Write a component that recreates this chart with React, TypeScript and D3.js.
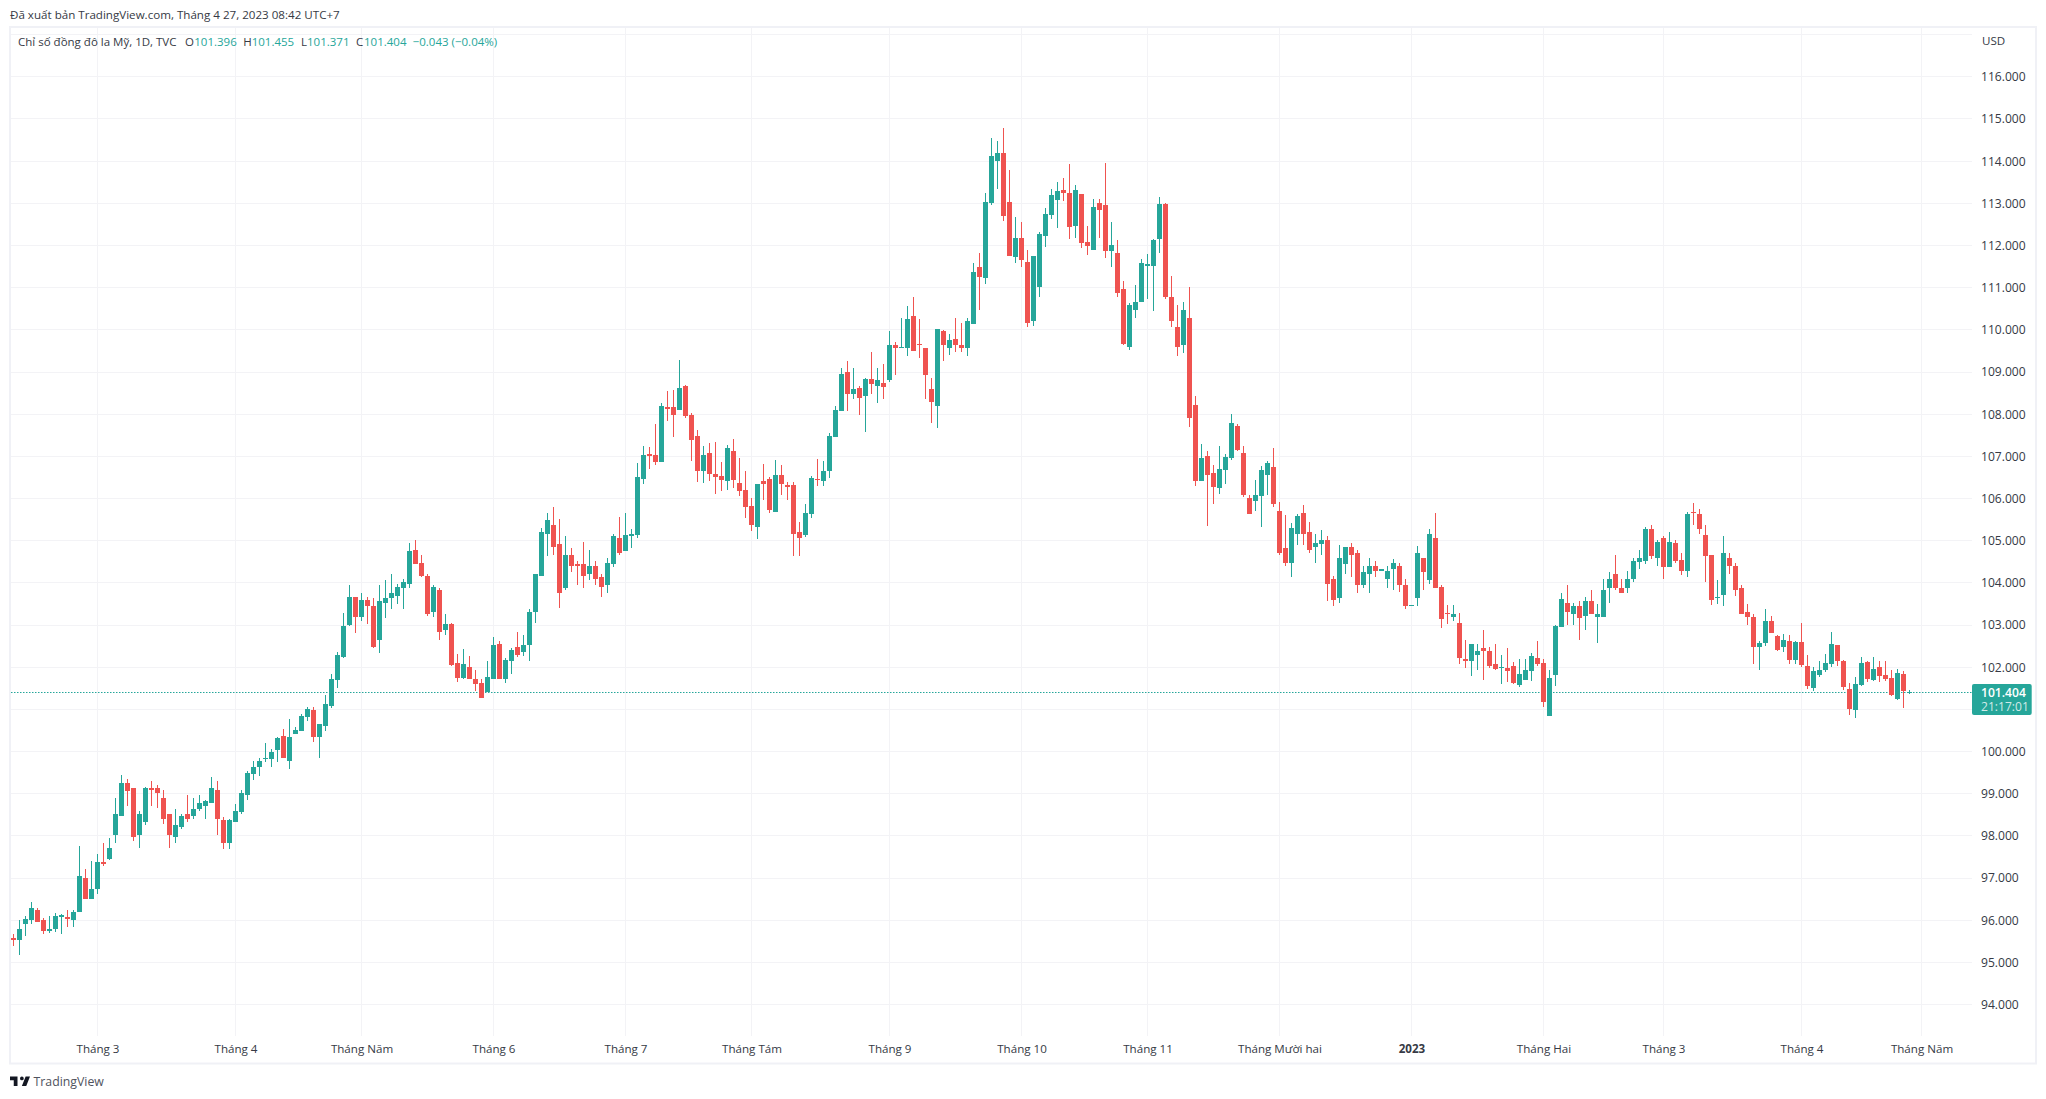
import React, { useRef, useEffect } from 'react';
import * as d3 from 'd3';

const opens = [
  95.58,95.53,95.91,96.01,96.25,96.01,95.75,95.79,96.08,96.08,
  96.01,96.20,97.01,96.51,96.75,97.37,97.46,98.03,98.48,99.25,
  99.13,98.03,98.34,99.13,99.13,98.89,98.51,97.98,98.22,98.51,
  98.46,98.63,98.72,98.79,99.08,98.37,97.82,98.32,98.56,98.98,
  99.46,99.63,99.82,99.82,100.03,100.37,99.77,100.41,100.48,100.82,
  100.98,100.34,100.60,101.08,101.70,102.25,103.01,103.67,103.20,103.60,
  103.46,102.65,103.53,103.63,103.70,103.89,103.98,104.77,104.46,104.17,
  103.32,103.84,102.89,103.03,102.10,101.75,102.00,101.72,101.62,101.41,
  101.72,102.56,101.72,102.15,102.48,102.37,102.53,103.32,104.17,105.17,
  105.37,104.91,103.87,104.65,104.44,104.44,104.20,104.39,104.13,103.96,
  104.44,105.06,104.75,105.10,105.13,106.46,107.06,107.03,106.87,108.17,
  108.17,108.10,108.67,107.98,107.48,106.65,107.08,106.58,106.53,106.41,
  107.13,106.37,106.20,105.82,105.32,106.41,106.46,105.67,106.56,106.32,
  106.32,105.20,105.13,105.63,106.46,106.41,106.65,107.46,108.08,109.01,
  108.48,108.63,108.44,108.84,108.67,108.75,108.82,109.65,109.58,109.58,
  110.32,109.67,109.58,108.60,108.20,109.98,109.58,109.79,109.65,109.56,
  110.15,111.48,111.22,113.01,114.01,114.20,113.03,111.72,112.17,111.60,
  110.20,111.01,112.22,112.72,113.08,113.32,113.25,112.46,113.22,112.08,
  111.89,113.01,112.96,111.87,111.82,110.96,109.60,110.48,110.65,111.51,
  111.51,112.15,112.98,110.79,110.06,109.63,110.29,108.22,106.41,107.01,
  106.60,106.25,106.67,106.96,107.72,107.08,106.01,105.94,106.06,106.56,
  106.75,105.70,104.82,104.48,105.15,105.65,105.20,104.84,104.91,105.01,
  104.08,103.65,104.44,104.84,104.72,103.94,104.20,104.39,104.29,104.10,
  104.32,104.39,103.96,103.46,103.65,104.58,104.06,105.06,103.91,103.29,
  103.20,103.06,102.20,102.15,102.29,102.46,102.39,102.08,101.97,101.99,
  102.03,101.58,101.70,101.91,102.22,102.10,100.84,101.82,102.96,103.53,
  103.25,103.44,103.22,103.58,103.20,103.20,103.87,104.20,103.89,103.89,
  104.10,104.49,104.53,105.27,104.60,105.06,104.37,104.94,104.55,104.29,
  105.67,105.63,105.13,104.65,103.65,103.72,104.58,104.41,103.87,103.32,
  103.20,102.47,102.58,103.10,102.75,102.47,102.63,102.18,102.60,102.03,
  101.50,101.82,101.94,102.08,102.53,102.15,101.48,100.98,101.58,102.13,
  101.70,102.01,101.82,101.75,101.25,101.84,101.396,
];

const highs = [
  95.67,96.01,96.10,96.44,96.29,96.06,96.10,96.17,96.15,96.25,
  96.25,97.75,97.22,97.41,97.58,97.84,97.96,98.91,99.44,99.34,
  99.13,98.60,99.17,99.29,99.20,99.08,98.51,98.63,98.53,98.98,
  98.89,98.96,98.84,99.39,99.29,98.44,98.41,98.75,99.08,99.53,
  99.77,99.84,100.20,100.06,100.34,100.53,100.77,100.58,100.89,101.06,
  101.06,100.65,101.34,101.84,102.37,103.29,103.94,103.67,103.75,103.67,
  103.63,103.94,104.06,104.20,103.98,104.10,104.94,105.01,104.65,104.22,
  103.94,103.89,103.27,103.06,102.32,102.44,102.27,101.94,101.72,102.15,
  102.72,102.63,102.22,102.46,102.84,102.77,103.37,104.22,105.29,105.65,
  105.79,105.51,105.10,104.82,104.53,104.96,104.77,104.51,104.22,104.60,
  105.15,105.56,105.65,105.27,106.85,107.25,107.22,107.77,108.27,108.56,
  108.58,109.29,108.70,108.03,107.63,107.25,107.32,107.34,106.87,107.27,
  107.41,106.96,106.65,106.01,106.34,106.82,106.51,106.91,106.79,106.39,
  106.39,105.44,105.87,106.53,106.94,106.89,107.56,108.20,109.10,109.27,
  109.10,108.67,108.87,109.48,109.10,109.20,109.98,109.72,110.27,110.56,
  110.79,110.25,109.58,108.87,110.01,110.00,109.91,110.27,110.17,110.29,
  111.58,111.82,113.25,114.56,114.48,114.79,113.79,112.67,112.56,111.89,
  111.75,112.32,112.89,113.34,113.51,113.60,113.94,113.44,113.22,112.46,
  113.10,113.10,113.96,112.56,112.13,111.15,110.63,111.06,111.67,111.79,
  112.15,113.15,113.01,111.27,110.60,110.65,111.01,108.44,107.29,107.13,
  106.79,107.25,107.06,108.01,107.77,107.25,106.08,106.44,106.77,106.89,
  107.20,105.91,105.60,105.41,105.63,105.84,105.44,105.15,105.25,105.10,
  104.17,104.89,104.84,104.94,104.79,104.39,104.60,104.53,104.32,104.41,
  104.56,104.46,104.10,103.48,104.87,104.60,105.27,105.65,103.94,103.48,
  103.48,103.29,102.65,102.55,102.55,102.89,102.48,102.55,102.29,102.46,
  102.13,102.20,102.20,102.34,102.63,102.20,101.94,103.01,103.77,103.96,
  103.53,103.56,103.67,103.84,103.51,104.10,104.25,104.67,104.10,104.27,
  104.60,104.79,105.32,105.37,105.01,105.10,105.20,105.01,104.72,105.67,
  105.89,105.75,105.37,104.65,104.06,105.10,104.70,104.46,103.96,103.51,
  103.27,102.63,103.37,103.22,102.77,102.79,102.77,102.63,103.05,102.29,
  102.01,102.15,102.32,102.84,102.53,102.17,101.63,101.77,102.25,102.15,
  102.25,102.15,102.15,101.94,101.96,101.91,101.455,
];

const lows = [
  95.39,95.17,95.63,95.91,95.96,95.67,95.70,95.72,95.67,95.84,
  95.84,96.20,96.51,96.51,96.63,97.29,97.44,97.84,98.48,98.72,
  97.87,97.72,98.27,98.70,98.65,98.29,97.72,97.84,98.17,98.32,
  98.39,98.60,98.41,98.79,98.03,97.70,97.70,98.32,98.53,98.84,
  99.32,99.41,99.75,99.63,99.75,99.84,99.58,100.41,100.48,100.72,
  100.22,99.84,100.48,101.03,101.51,102.22,102.98,102.82,103.10,103.03,
  102.46,102.34,103.17,103.39,103.51,103.37,103.89,104.44,104.15,103.22,
  103.20,102.65,102.77,102.03,101.65,101.72,101.72,101.44,101.27,101.41,
  101.72,101.72,101.62,101.84,102.25,102.27,102.15,103.06,104.17,104.63,
  104.67,103.41,103.84,104.25,103.94,103.87,104.06,103.96,103.67,103.77,
  104.37,104.65,104.75,104.82,105.06,106.34,106.70,106.79,106.87,107.84,
  107.46,108.10,107.91,106.89,106.39,106.37,106.41,106.10,106.17,106.20,
  106.25,106.06,105.53,105.22,105.03,105.96,105.65,105.67,106.08,105.96,
  104.63,104.63,105.08,105.53,106.29,106.29,106.48,107.46,108.08,108.08,
  108.37,107.98,107.58,108.48,108.27,108.37,108.77,108.94,109.58,109.37,
  109.51,109.34,108.37,107.79,107.67,109.27,109.41,109.48,109.48,109.37,
  110.13,110.46,111.08,112.96,113.34,112.58,111.75,111.58,111.48,110.06,
  110.10,110.79,111.96,112.63,112.41,113.06,112.15,112.17,111.94,111.77,
  111.89,112.17,111.70,111.48,110.77,109.63,109.53,110.29,110.65,110.72,
  110.44,111.82,110.72,110.06,109.37,109.46,107.70,106.29,106.41,105.34,
  105.87,106.10,106.34,106.91,107.13,106.03,105.63,105.70,105.32,106.08,
  105.79,104.67,104.39,104.13,104.89,104.89,104.72,104.48,104.67,103.58,
  103.46,103.53,104.22,104.13,103.77,103.87,103.75,104.13,104.29,103.89,
  103.84,103.79,103.39,103.46,103.46,103.84,103.98,103.87,102.94,103.03,
  103.10,102.08,101.98,101.78,101.94,101.70,101.98,101.94,101.60,101.66,
  101.60,101.53,101.70,101.67,102.03,101.05,100.84,101.55,102.96,103.01,
  103.01,102.65,102.89,103.25,102.58,103.18,103.53,103.84,103.75,103.77,
  104.01,104.32,104.44,104.56,104.41,104.10,104.37,104.48,104.18,104.15,
  105.37,105.15,104.03,103.48,103.51,103.44,104.20,103.70,103.27,103.01,
  102.08,101.93,102.51,102.82,102.39,102.37,102.08,102.08,102.00,101.48,
  101.43,101.77,101.89,102.00,102.03,101.46,100.87,100.79,101.56,101.65,
  101.67,101.65,101.67,101.32,101.22,101.03,101.371,
];

const closes = [
  95.53,95.79,96.03,96.29,95.96,95.75,95.79,96.10,96.13,96.03,
  96.20,97.06,96.51,96.75,97.39,97.34,97.72,98.51,99.25,99.06,
  97.98,98.53,99.13,99.08,99.01,98.39,98.01,98.25,98.48,98.41,
  98.63,98.77,98.82,99.13,98.39,97.82,98.37,98.58,99.01,99.48,
  99.63,99.77,99.84,99.98,100.32,99.84,100.34,100.51,100.84,101.01,
  100.34,100.65,101.13,101.72,102.29,102.98,103.67,103.20,103.60,103.44,
  102.48,103.56,103.65,103.75,103.91,104.01,104.75,104.44,104.17,103.27,
  103.91,102.84,103.03,102.06,101.75,102.08,101.72,101.60,101.27,101.77,
  102.53,101.72,102.17,102.41,102.29,102.53,103.32,104.20,105.20,105.48,
  104.84,103.77,104.65,104.39,104.41,104.17,104.41,104.10,103.91,104.48,
  105.10,104.72,105.13,105.17,106.51,107.03,107.01,106.87,108.20,108.13,
  107.98,108.63,107.96,107.39,106.65,107.03,106.58,106.51,106.44,107.20,
  106.44,106.17,105.79,105.37,106.34,106.34,105.72,106.56,106.34,106.27,
  105.15,105.06,105.65,106.48,106.44,106.65,107.48,108.10,108.96,108.48,
  108.60,108.39,108.84,108.72,108.82,108.65,109.63,109.58,109.60,110.25,
  109.51,109.63,108.94,108.29,110.01,109.63,109.75,109.63,109.56,110.20,
  111.37,111.25,113.03,114.13,114.20,112.70,111.75,112.17,111.65,110.17,
  111.75,112.27,112.75,113.20,113.29,113.25,112.44,113.32,112.06,111.98,
  112.91,112.84,111.87,112.01,110.87,109.67,110.58,110.67,111.58,111.56,
  112.13,112.98,110.77,110.20,109.60,110.46,107.91,106.41,106.96,106.56,
  106.27,106.70,106.98,107.79,107.15,106.08,105.63,106.08,106.67,106.84,
  105.87,104.72,104.48,105.29,105.58,105.15,104.79,104.94,105.01,103.98,
  103.60,104.60,104.84,104.65,103.96,104.25,104.39,104.29,104.32,104.27,
  104.46,103.96,103.46,103.48,104.70,104.25,105.15,103.89,103.15,103.25,
  103.25,102.22,102.15,102.55,102.39,102.39,102.03,101.96,102.01,101.90,
  101.63,101.84,101.94,102.27,102.08,101.17,101.75,102.98,103.62,103.32,
  103.46,103.17,103.58,103.27,103.27,103.82,104.10,103.87,103.75,104.10,
  104.51,104.58,105.27,104.63,104.96,104.37,104.96,104.51,104.29,105.63,
  105.65,105.27,104.63,103.60,103.67,104.70,104.41,103.84,103.27,103.20,
  102.49,102.58,103.10,102.82,102.41,102.65,102.17,102.60,102.05,101.55,
  101.91,101.94,102.10,102.55,102.15,101.53,101.01,101.60,102.10,101.72,
  101.96,101.79,101.72,101.33,101.87,101.44,101.404,
];

// bar index of the first session shown under each month label
const timeTickBars = [14, 37, 58, 80, 102, 123, 146, 168, 189, 211, 233, 255, 275, 298, 318];
const timeTickLabels = [
  'Tháng 3', 'Tháng 4', 'Tháng Năm', 'Tháng 6', 'Tháng 7', 'Tháng Tám', 'Tháng 9', 'Tháng 10',
  'Tháng 11', 'Tháng Mười hai', '2023', 'Tháng Hai', 'Tháng 3', 'Tháng 4', 'Tháng Năm',
];
const gridPrices = d3.range(94, 118);
const labelPrices = d3.range(94, 117).filter((p: number) => p !== 101);
const lastPrice = 101.404;

const FONT = '"Open Sans", sans-serif';
const UP = '#26a69a';
const DOWN = '#ef5350';
const TEXT = '#363a45';
const GRID = '#f3f3f6';

const App: React.FC = () => {
  const svgRef = useRef<SVGSVGElement>(null);

  useEffect(() => {
    if (!svgRef.current) return;
    const svg = d3.select(svgRef.current);
    svg.selectAll('*').remove();

    const plot = { left: 11, right: 1972, top: 28, bottom: 1036 };

    const x = d3.scaleLinear().domain([0, 316]).range([13.5, 1909.5]);
    const y = d3.scaleLinear().domain([94, 116]).range([1004.57, 76.83]);
    const crisp = (v: number) => Math.floor(v) + 0.5;

    // Grid
    const grid = svg.append('g').attr('stroke', GRID).attr('stroke-width', 1);
    grid.selectAll('.h').data(gridPrices).enter().append('line')
      .attr('x1', plot.left).attr('x2', plot.right)
      .attr('y1', (d: number) => crisp(y(d))).attr('y2', (d: number) => crisp(y(d)));
    grid.selectAll('.v').data(timeTickBars).enter().append('line')
      .attr('x1', (d: number) => x(d)).attr('x2', (d: number) => x(d))
      .attr('y1', plot.top).attr('y2', plot.bottom);

    // Frame
    svg.append('rect')
      .attr('x', 10).attr('y', 27).attr('width', 2026).attr('height', 1036.5)
      .attr('fill', 'none').attr('stroke', '#f0f1f6').attr('stroke-width', 2);

    // Last price line
    svg.append('line')
      .attr('x1', plot.left).attr('x2', plot.right)
      .attr('y1', crisp(y(lastPrice))).attr('y2', crisp(y(lastPrice)))
      .attr('stroke', UP).attr('stroke-dasharray', '1.5 1.5');

    // Candles
    const bars = d3.range(opens.length);
    const color = (i: number) => (closes[i] < opens[i] ? DOWN : UP);
    const candles = svg.append('g');
    candles.selectAll('.wick').data(bars).enter().append('rect')
      .attr('x', (i: number) => x(i) - 0.5)
      .attr('width', 1)
      .attr('y', (i: number) => Math.round(y(highs[i])))
      .attr('height', (i: number) => Math.max(1, Math.round(y(lows[i])) - Math.round(y(highs[i]))))
      .attr('fill', color);
    candles.selectAll('.body').data(bars).enter().append('rect')
      .attr('x', (i: number) => x(i) - 2.5)
      .attr('width', 5)
      .attr('y', (i: number) => Math.round(y(Math.max(opens[i], closes[i]))))
      .attr('height', (i: number) =>
        Math.max(1, Math.round(y(Math.min(opens[i], closes[i]))) - Math.round(y(Math.max(opens[i], closes[i])))))
      .attr('fill', color);

    // Price axis
    const priceAxis = svg.append('g')
      .attr('transform', `translate(${plot.right},0)`)
      .call(d3.axisRight(y).tickValues(labelPrices).tickFormat(d3.format('.3f')).tickSize(0).tickPadding(9));
    priceAxis.select('.domain').remove();
    priceAxis.selectAll('text')
      .attr('font-family', FONT).attr('font-size', 12.1).attr('fill', TEXT);

    svg.append('text')
      .attr('x', 1982).attr('y', 41).attr('dy', '0.35em')
      .attr('font-family', FONT).attr('font-size', 11.6).attr('fill', TEXT)
      .text('USD');

    // Time axis
    const timeAxis = svg.append('g')
      .attr('transform', `translate(0,${plot.bottom})`)
      .call(d3.axisBottom(x).tickValues(timeTickBars)
        .tickFormat((_: unknown, i: number) => timeTickLabels[i]).tickSize(0).tickPadding(9));
    timeAxis.select('.domain').remove();
    timeAxis.selectAll('text')
      .attr('font-family', FONT).attr('font-size', 11.6).attr('fill', TEXT)
      .attr('font-weight', (_: unknown, i: number) => (timeTickLabels[i] === '2023' ? 700 : 400));

    // Last price label
    svg.append('rect')
      .attr('x', plot.right).attr('y', 684).attr('width', 59.7).attr('height', 31)
      .attr('rx', 2).attr('fill', UP);
    svg.append('text')
      .attr('x', 1981).attr('y', y(lastPrice)).attr('dy', '0.35em')
      .attr('font-family', FONT).attr('font-size', 12.1).attr('font-weight', 600).attr('fill', '#fff')
      .text(d3.format('.3f')(lastPrice));
    svg.append('text')
      .attr('x', 1981).attr('y', 707).attr('dy', '0.35em')
      .attr('font-family', FONT).attr('font-size', 12.1).attr('fill', '#fff').attr('fill-opacity', 0.8)
      .text('21:17:01');

    // Header
    svg.append('text')
      .attr('x', 10).attr('y', 19)
      .attr('font-family', FONT).attr('font-size', 11.6).attr('fill', TEXT)
      .text('Đã xuất bản TradingView.com, Tháng 4 27, 2023 08:42 UTC+7');

    const legend: [number, string, string][] = [
      [18, 'Chỉ số đồng đô la Mỹ, 1D, TVC', TEXT],
      [185, 'O', TEXT], [194.3, '101.396', UP],
      [243.3, 'H', TEXT], [251.7, '101.455', UP],
      [301, 'L', TEXT], [307, '101.371', UP],
      [356, 'C', TEXT], [364, '101.404', UP],
      [412.7, '−0.043 (−0.04%)', UP],
    ];
    svg.append('g').selectAll('text').data(legend).enter().append('text')
      .attr('x', (d: [number, string, string]) => d[0]).attr('y', 46)
      .attr('font-family', FONT).attr('font-size', 11.5)
      .attr('fill', (d: [number, string, string]) => d[2])
      .text((d: [number, string, string]) => d[1]);

    // Footer logo
    svg.append('path')
      .attr('transform', 'translate(8.75,1072.75) scale(0.625)')
      .attr('d', 'M14 6H2v6h6v9h6V6zm14 15h-7l6-15h7l-6 15zm-7-9a3 3 0 1 0 0-6 3 3 0 0 0 0 6z')
      .attr('fill', '#131722');
    svg.append('text')
      .attr('x', 33.5).attr('y', 1086)
      .attr('font-family', FONT).attr('font-size', 12.3).attr('fill', '#50535e')
      .text('TradingView');
  }, []);

  return (
    <svg
      ref={svgRef}
      width={2046}
      height={1099}
      style={{ position: 'absolute', left: 0, top: 0, display: 'block', background: '#fff' }}
    ></svg>
  );
};

export default App;
